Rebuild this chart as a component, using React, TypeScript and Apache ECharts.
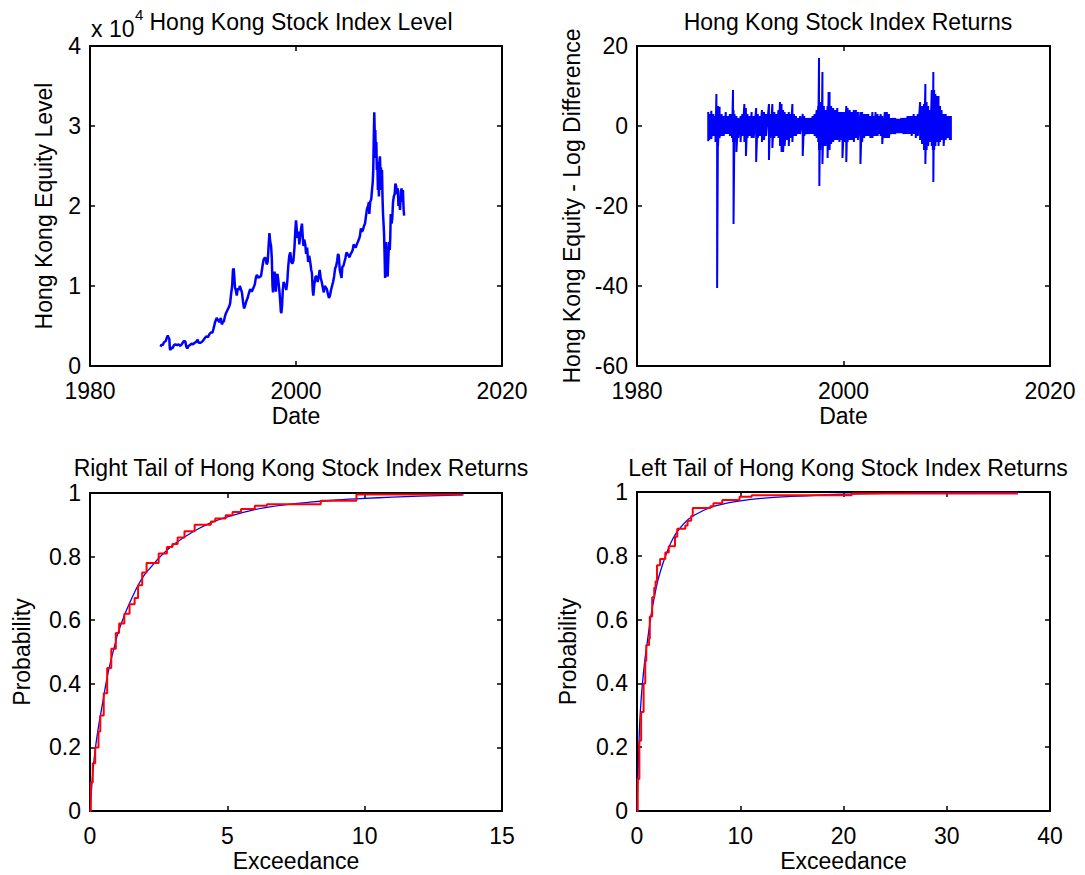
import React, { useEffect, useRef } from "react";
import * as echarts from "echarts";

const FONT = "'Liberation Sans', Arial, Helvetica, sans-serif";
const FS = 23;

// Hang Seng index level (units of 10^4): [year, level]
const hsiLevel: [number, number][] = [
  [1986.85, 0.24], [1986.95, 0.27], [1987.05, 0.26], [1987.2, 0.3], [1987.35, 0.31], [1987.45, 0.35],
  [1987.55, 0.38], [1987.62, 0.36], [1987.7, 0.34], [1987.75, 0.22], [1987.8, 0.2], [1987.9, 0.23],
  [1988.0, 0.22], [1988.15, 0.26], [1988.3, 0.27], [1988.45, 0.26], [1988.6, 0.27], [1988.75, 0.25],
  [1988.9, 0.27], [1989.0, 0.29], [1989.1, 0.31], [1989.25, 0.31], [1989.35, 0.24], [1989.45, 0.22],
  [1989.55, 0.25], [1989.7, 0.26], [1989.85, 0.28], [1990.0, 0.27], [1990.15, 0.29], [1990.3, 0.3],
  [1990.45, 0.33], [1990.55, 0.29], [1990.7, 0.29], [1990.85, 0.3], [1991.0, 0.32], [1991.15, 0.35],
  [1991.3, 0.37], [1991.45, 0.36], [1991.6, 0.4], [1991.75, 0.42], [1991.9, 0.42], [1992.0, 0.47],
  [1992.15, 0.55], [1992.3, 0.6], [1992.4, 0.58], [1992.55, 0.55], [1992.7, 0.6], [1992.8, 0.52],
  [1992.9, 0.55], [1993.0, 0.56], [1993.1, 0.62], [1993.2, 0.66], [1993.35, 0.7], [1993.5, 0.74],
  [1993.6, 0.78], [1993.7, 0.9], [1993.8, 1.0], [1993.88, 1.2], [1993.95, 1.22], [1994.0, 1.13],
  [1994.08, 0.98], [1994.15, 0.95], [1994.25, 0.88], [1994.35, 0.97], [1994.45, 0.95], [1994.55, 1.0],
  [1994.65, 0.96], [1994.75, 0.92], [1994.85, 0.81], [1994.95, 0.72], [1995.05, 0.75], [1995.15, 0.8],
  [1995.3, 0.85], [1995.45, 0.92], [1995.55, 0.96], [1995.7, 0.93], [1995.85, 0.97], [1996.0, 1.02],
  [1996.1, 1.1], [1996.2, 1.14], [1996.35, 1.1], [1996.5, 1.12], [1996.6, 1.12], [1996.75, 1.25],
  [1996.85, 1.33], [1996.95, 1.35], [1997.05, 1.35], [1997.15, 1.27], [1997.25, 1.3], [1997.35, 1.52],
  [1997.42, 1.66], [1997.5, 1.55], [1997.58, 1.5], [1997.65, 1.35], [1997.72, 1.0], [1997.77, 0.92],
  [1997.85, 1.12], [1997.92, 1.18], [1998.0, 0.98], [1998.05, 0.93], [1998.12, 1.12], [1998.2, 1.15],
  [1998.3, 1.05], [1998.4, 0.92], [1998.47, 0.8], [1998.53, 0.68], [1998.58, 0.66], [1998.65, 0.76],
  [1998.72, 0.95], [1998.8, 1.05], [1998.9, 1.02], [1998.98, 1.0], [1999.05, 0.95], [1999.15, 1.05],
  [1999.25, 1.25], [1999.35, 1.38], [1999.45, 1.42], [1999.55, 1.3], [1999.65, 1.28], [1999.75, 1.32],
  [1999.85, 1.48], [1999.93, 1.68], [2000.0, 1.82], [2000.08, 1.7], [2000.15, 1.6], [2000.25, 1.68],
  [2000.32, 1.52], [2000.4, 1.62], [2000.5, 1.72], [2000.58, 1.78], [2000.65, 1.62], [2000.72, 1.5],
  [2000.8, 1.58], [2000.9, 1.52], [2000.98, 1.4], [2001.08, 1.48], [2001.18, 1.3], [2001.28, 1.38],
  [2001.38, 1.3], [2001.48, 1.2], [2001.55, 1.16], [2001.62, 0.95], [2001.68, 0.88], [2001.78, 1.02],
  [2001.9, 1.12], [2002.0, 1.12], [2002.1, 1.05], [2002.2, 1.12], [2002.3, 1.2], [2002.4, 1.1],
  [2002.5, 1.05], [2002.6, 0.98], [2002.7, 0.92], [2002.8, 1.0], [2002.9, 0.98], [2003.0, 0.96],
  [2003.1, 0.9], [2003.2, 0.85], [2003.3, 0.88], [2003.4, 0.95], [2003.5, 1.0], [2003.6, 1.05],
  [2003.7, 1.12], [2003.8, 1.22], [2003.9, 1.25], [2004.0, 1.32], [2004.08, 1.4], [2004.15, 1.38],
  [2004.25, 1.2], [2004.35, 1.14], [2004.42, 1.1], [2004.5, 1.24], [2004.6, 1.25], [2004.7, 1.3],
  [2004.8, 1.35], [2004.9, 1.42], [2005.0, 1.4], [2005.1, 1.38], [2005.2, 1.36], [2005.3, 1.4],
  [2005.4, 1.42], [2005.5, 1.45], [2005.6, 1.52], [2005.7, 1.5], [2005.8, 1.48], [2005.9, 1.52],
  [2006.0, 1.55], [2006.1, 1.58], [2006.2, 1.62], [2006.3, 1.72], [2006.4, 1.68], [2006.5, 1.7],
  [2006.6, 1.75], [2006.7, 1.78], [2006.8, 1.88], [2006.9, 1.97], [2007.0, 2.0], [2007.08, 2.05],
  [2007.12, 1.9], [2007.2, 2.05], [2007.3, 2.08], [2007.38, 2.2], [2007.45, 2.3], [2007.5, 2.45],
  [2007.55, 2.85], [2007.6, 3.17], [2007.65, 2.88], [2007.7, 2.95], [2007.75, 2.6], [2007.8, 2.8],
  [2007.85, 2.45], [2007.9, 2.55], [2007.95, 2.2], [2008.0, 2.35], [2008.05, 2.12], [2008.1, 2.55],
  [2008.15, 2.62], [2008.2, 2.4], [2008.25, 2.48], [2008.3, 2.2], [2008.35, 2.45], [2008.4, 2.1],
  [2008.45, 1.9], [2008.5, 1.78], [2008.55, 1.65], [2008.6, 1.4], [2008.65, 1.1], [2008.7, 1.3],
  [2008.75, 1.55], [2008.8, 1.38], [2008.85, 1.15], [2008.9, 1.12], [2008.95, 1.3], [2009.0, 1.45],
  [2009.05, 1.55], [2009.1, 1.45], [2009.15, 1.6], [2009.2, 1.9], [2009.28, 1.78], [2009.35, 1.85],
  [2009.42, 2.05], [2009.5, 2.12], [2009.58, 2.15], [2009.65, 2.28], [2009.72, 2.25], [2009.8, 2.15],
  [2009.88, 2.22], [2009.95, 2.0], [2010.02, 2.1], [2010.1, 1.95], [2010.18, 2.18], [2010.25, 2.22],
  [2010.32, 2.05], [2010.38, 2.2], [2010.45, 1.95], [2010.5, 1.88],
];

// Daily log-difference returns (%), read as high/low envelope per period: [year, high, low]
const hsiReturns: [number, number, number][] = [
  [1986.9, 3.5, -3.8], [1987.0, 3, -3.5], [1987.2, 3.8, -3.2], [1987.4, 3, -2.5], [1987.6, 2.5, -4],
  [1987.69, 8, -4], [1987.76, 5, -40.5], [1987.85, 5, -5], [1988.0, 4.8, -3], [1988.2, 3, -2.5],
  [1988.4, 2.5, -2.5], [1988.6, 3.5, -2], [1988.8, 2.5, -2], [1989.0, 3, -2.5], [1989.2, 3, -3],
  [1989.3, 9, -4], [1989.35, 4, -24.5], [1989.45, 3, -4], [1989.63, 2.5, -6.5], [1989.8, 2, -3],
  [1990.03, 2.5, -4], [1990.2, 3, -2.5], [1990.4, 5.5, -4], [1990.55, 4.5, -7.5], [1990.7, 3, -3],
  [1990.9, 2.5, -2.5], [1991.1, 3.5, -3], [1991.3, 2.5, -3], [1991.54, 4.5, -9], [1991.7, 3, -3],
  [1991.9, 2.5, -2.5], [1992.1, 4, -4], [1992.3, 3.5, -3.5], [1992.5, 3, -2.5], [1992.78, 5.5, -8.5],
  [1992.9, 3, -3], [1993.11, 5.5, -5.5], [1993.3, 3.5, -3], [1993.5, 3, -2.5], [1993.7, 4, -3],
  [1993.85, 6, -5], [1994.0, 5.5, -6.5], [1994.15, 4, -6.5], [1994.3, 3.5, -5], [1994.5, 3, -3.5],
  [1994.7, 3.5, -5], [1994.85, 3, -3], [1995.05, 5.5, -4], [1995.2, 3, -2.5], [1995.4, 2.5, -2.5],
  [1995.6, 2, -2], [1995.8, 2.5, -2], [1996.05, 3, -7.5], [1996.2, 2.5, -2.5], [1996.4, 2, -2],
  [1996.6, 2, -2], [1996.8, 2, -2], [1997.0, 2.5, -2], [1997.2, 3, -2.5], [1997.4, 4, -3],
  [1997.55, 5, -4], [1997.63, 17, -6], [1997.66, 6, -15], [1997.75, 6, -6], [1997.88, 5, -5],
  [1997.96, 13.5, -9.5], [1998.1, 5, -5], [1998.25, 4, -5], [1998.46, 5, -8], [1998.56, 8.5, -5],
  [1998.65, 8.5, -6], [1998.8, 5, -4.5], [1999.0, 4.5, -4], [1999.2, 4, -3.5], [1999.4, 4.5, -3.5],
  [1999.6, 3.5, -4], [1999.75, 3.5, -3.5], [1999.9, 3.5, -8], [2000.1, 3.5, -4], [2000.27, 5, -9],
  [2000.4, 4.5, -4], [2000.6, 4, -3.5], [2000.8, 3.5, -3.5], [2001.0, 4, -4], [2001.2, 4, -3],
  [2001.4, 3.5, -3.5], [2001.64, 3.5, -9.5], [2001.8, 3.5, -4], [2002.0, 3, -3], [2002.2, 3, -2.5],
  [2002.4, 3, -2.5], [2002.6, 2.5, -3], [2002.8, 3.5, -3], [2003.0, 2.5, -2.5], [2003.1, 3.5, -2.5],
  [2003.3, 3, -2.5], [2003.5, 2.5, -2], [2003.6, 3, -2.5], [2003.75, 2.5, -4.5], [2004.0, 3.5, -3],
  [2004.2, 3.5, -3], [2004.4, 3, -3], [2004.6, 2, -2], [2004.8, 2, -2], [2005.0, 2, -2],
  [2005.2, 1.8, -1.8], [2005.4, 1.8, -1.8], [2005.6, 2, -1.8], [2005.8, 2, -2], [2006.0, 2, -2],
  [2006.2, 2.5, -2], [2006.4, 2.5, -2], [2006.6, 2.5, -2.5], [2006.8, 3, -2], [2007.0, 2.5, -3],
  [2007.2, 3, -2.5], [2007.42, 6, -3.5], [2007.6, 5, -4.5], [2007.8, 5.5, -6], [2007.93, 10.5, -9.5],
  [2008.05, 6, -6], [2008.2, 5, -5], [2008.4, 4, -4], [2008.55, 9, -5], [2008.65, 9, -6],
  [2008.7, 13.5, -14], [2008.78, 9, -6], [2008.9, 8, -5], [2009.05, 7.5, -4], [2009.2, 7.5, -5],
  [2009.35, 5, -4], [2009.5, 4, -3.5], [2009.7, 3, -5], [2009.9, 3, -3.5], [2010.1, 2.5, -3],
  [2010.3, 2.5, -3.5], [2010.4, 2.5, -3.5],
];

// Right tail: empirical CDF steps and fitted curve
const rightEcdfX = [0, 0.03, 0.1, 0.19, 0.31, 0.375, 0.5, 0.625, 0.775, 0.94, 1.06, 1.25, 1.44, 1.625, 1.75, 1.9, 2.06, 2.5, 2.8, 3.0, 3.19, 3.44, 3.81, 4.4, 4.56, 4.94, 5.19, 5.5, 6.0, 6.44, 8.4, 9.7, 13.55];
const rightEcdfP = [0, 0.09, 0.15, 0.2, 0.25, 0.3, 0.37, 0.45, 0.51, 0.56, 0.59, 0.62, 0.65, 0.67, 0.71, 0.75, 0.78, 0.81, 0.83, 0.84, 0.86, 0.88, 0.9, 0.91, 0.92, 0.93, 0.94, 0.95, 0.96, 0.965, 0.976, 0.995, 0.997];
const rightFitX = [0, 0.05, 0.1, 0.2, 0.3, 0.4, 0.5, 0.6, 0.75, 0.9, 1.0, 1.25, 1.5, 1.75, 2.0, 2.25, 2.5, 3.0, 3.5, 4.0, 4.5, 5.0, 6.0, 7.0, 8.0, 9.0, 10.0, 11.0, 12.0, 13.6];
const rightFitP = [0, 0.06, 0.12, 0.2, 0.26, 0.31, 0.36, 0.41, 0.47, 0.52, 0.555, 0.615, 0.665, 0.71, 0.745, 0.77, 0.795, 0.835, 0.865, 0.89, 0.91, 0.925, 0.948, 0.962, 0.971, 0.978, 0.983, 0.987, 0.99, 0.994];

// Left tail: empirical CDF steps and fitted curve
const leftEcdfX = [0, 0.07, 0.23, 0.4, 0.64, 0.8, 0.9, 1.17, 1.24, 1.47, 1.67, 1.8, 1.94, 2.24, 2.74, 3.08, 3.68, 3.9, 4.68, 4.9, 5.25, 5.4, 7.1, 7.4, 8.26, 9.93, 11.1, 20.8, 36.9];
const leftEcdfP = [0, 0.1, 0.22, 0.31, 0.4, 0.47, 0.52, 0.54, 0.61, 0.67, 0.7, 0.72, 0.77, 0.79, 0.81, 0.83, 0.86, 0.885, 0.895, 0.91, 0.925, 0.95, 0.955, 0.965, 0.975, 0.985, 0.99, 0.995, 0.997];
const leftFitX = [0, 0.1, 0.2, 0.3, 0.5, 0.75, 1.0, 1.25, 1.5, 2.0, 2.5, 3.0, 3.5, 4.0, 5.0, 6.0, 7.0, 8.0, 10.0, 12.0, 15.0, 20.0, 25.0, 30.0, 37.0];
const leftFitP = [0, 0.12, 0.22, 0.3, 0.39, 0.47, 0.53, 0.59, 0.64, 0.72, 0.775, 0.82, 0.855, 0.88, 0.915, 0.935, 0.95, 0.96, 0.972, 0.98, 0.986, 0.993, 0.996, 0.998, 0.999];

const grids = [
  { left: 90, top: 46, width: 412, height: 320 },
  { left: 637, top: 46, width: 413, height: 320 },
  { left: 90, top: 493, width: 412, height: 318 },
  { left: 637, top: 492, width: 413, height: 319 },
];

const textStyle = { color: "#000", fontFamily: FONT, fontSize: FS };
const plainLabel = (v: number) => String(Math.round(v * 1000) / 1000);

function xPair(g: number, min: number, max: number, interval: number, name: string, nameGap: number) {
  const line = { show: true, onZero: false, lineStyle: { color: "#000", width: 2 } };
  const tick = { show: true, inside: true, length: 5, lineStyle: { color: "#000", width: 1.5 } };
  return [
    {
      type: "value", gridIndex: g, min, max, interval, position: "bottom",
      axisLine: line, axisTick: tick, splitLine: { show: false },
      axisLabel: { ...textStyle, margin: 13, formatter: plainLabel },
      name, nameLocation: "middle", nameGap, nameTextStyle: textStyle,
    },
    {
      type: "value", gridIndex: g, min, max, interval, position: "top",
      axisLine: line, axisTick: tick, splitLine: { show: false },
      axisLabel: { show: false },
    },
  ];
}

function yPair(g: number, min: number, max: number, interval: number, name: string, nameGap: number) {
  const line = { show: true, onZero: false, lineStyle: { color: "#000", width: 2 } };
  const tick = { show: true, inside: true, length: 5, lineStyle: { color: "#000", width: 1.5 } };
  return [
    {
      type: "value", gridIndex: g, min, max, interval, position: "left",
      axisLine: line, axisTick: tick, splitLine: { show: false },
      axisLabel: { ...textStyle, margin: 9, formatter: plainLabel },
      name, nameLocation: "middle", nameGap, nameRotate: 90, nameTextStyle: textStyle,
    },
    {
      type: "value", gridIndex: g, min, max, interval, position: "right",
      axisLine: line, axisTick: tick, splitLine: { show: false },
      axisLabel: { show: false },
    },
  ];
}

export default function App() {
  const ref = useRef<HTMLDivElement>(null);

  useEffect(() => {
    if (!ref.current) return;
    const chart = echarts.init(ref.current, null, { renderer: "svg" });

    const returnsLine: [number, number][] = [];
    hsiReturns.forEach(([t, hi, lo]) => {
      returnsLine.push([t, hi]);
      returnsLine.push([t, lo]);
    });

    const zip = (xs: number[], ps: number[]) => xs.map((x, i) => [x, ps[i]]);

    const lineBase = { type: "line", showSymbol: false, symbol: "none", silent: true };
    const titleStyle = { ...textStyle, fontWeight: "normal" };

    chart.setOption({
      animation: false,
      backgroundColor: "#fff",
      textStyle: { fontFamily: FONT },
      title: [
        { text: "Hong Kong Stock Index Level", left: 296, top: 5, textAlign: "center", textStyle: titleStyle },
        { text: "Hong Kong Stock Index Returns", left: 843, top: 5, textAlign: "center", textStyle: titleStyle },
        { text: "Right Tail of Hong Kong Stock Index Returns", left: 296, top: 451, textAlign: "center", textStyle: titleStyle },
        { text: "Left Tail of Hong Kong Stock Index Returns", left: 843, top: 451, textAlign: "center", textStyle: titleStyle },
      ],
      graphic: [
        { type: "text", left: 91, top: 17, style: { text: "x 10", fill: "#000", font: `${FS}px ${FONT}` } },
        { type: "text", left: 135, top: 7, style: { text: "4", fill: "#000", font: `15px ${FONT}` } },
      ],
      grid: grids,
      xAxis: [
        ...xPair(0, 1980, 2020, 20, "Date", 38),
        ...xPair(1, 1980, 2020, 20, "Date", 38),
        ...xPair(2, 0, 15, 5, "Exceedance", 38),
        ...xPair(3, 0, 40, 10, "Exceedance", 38),
      ],
      yAxis: [
        ...yPair(0, 0, 4, 1, "Hong Kong Equity Level", 35),
        ...yPair(1, -60, 20, 20, "Hong Kong Equity - Log Difference", 54),
        ...yPair(2, 0, 1, 0.2, "Probability", 57),
        ...yPair(3, 0, 1, 0.2, "Probability", 58),
      ],
      series: [
        { ...lineBase, xAxisIndex: 0, yAxisIndex: 0, data: hsiLevel, lineStyle: { color: "#0000ff", width: 2.5 } },
        { ...lineBase, xAxisIndex: 2, yAxisIndex: 2, data: returnsLine, lineStyle: { color: "#0000ff", width: 2 } },
        { ...lineBase, xAxisIndex: 4, yAxisIndex: 4, data: zip(rightFitX, rightFitP), smooth: 0.3, lineStyle: { color: "#0000ff", width: 1.3 } },
        { ...lineBase, xAxisIndex: 4, yAxisIndex: 4, data: zip(rightEcdfX, rightEcdfP), step: "end", lineStyle: { color: "#ff0000", width: 2 } },
        { ...lineBase, xAxisIndex: 6, yAxisIndex: 6, data: zip(leftFitX, leftFitP), smooth: 0.3, lineStyle: { color: "#0000ff", width: 1.3 } },
        { ...lineBase, xAxisIndex: 6, yAxisIndex: 6, data: zip(leftEcdfX, leftEcdfP), step: "end", lineStyle: { color: "#ff0000", width: 2 } },
      ],
    });

    return () => chart.dispose();
  }, []);

  return (
    <div
      ref={ref}
      style={{ position: "absolute", left: 0, top: 0, width: 1085, height: 875, background: "#fff" }}
    />
  );
}
